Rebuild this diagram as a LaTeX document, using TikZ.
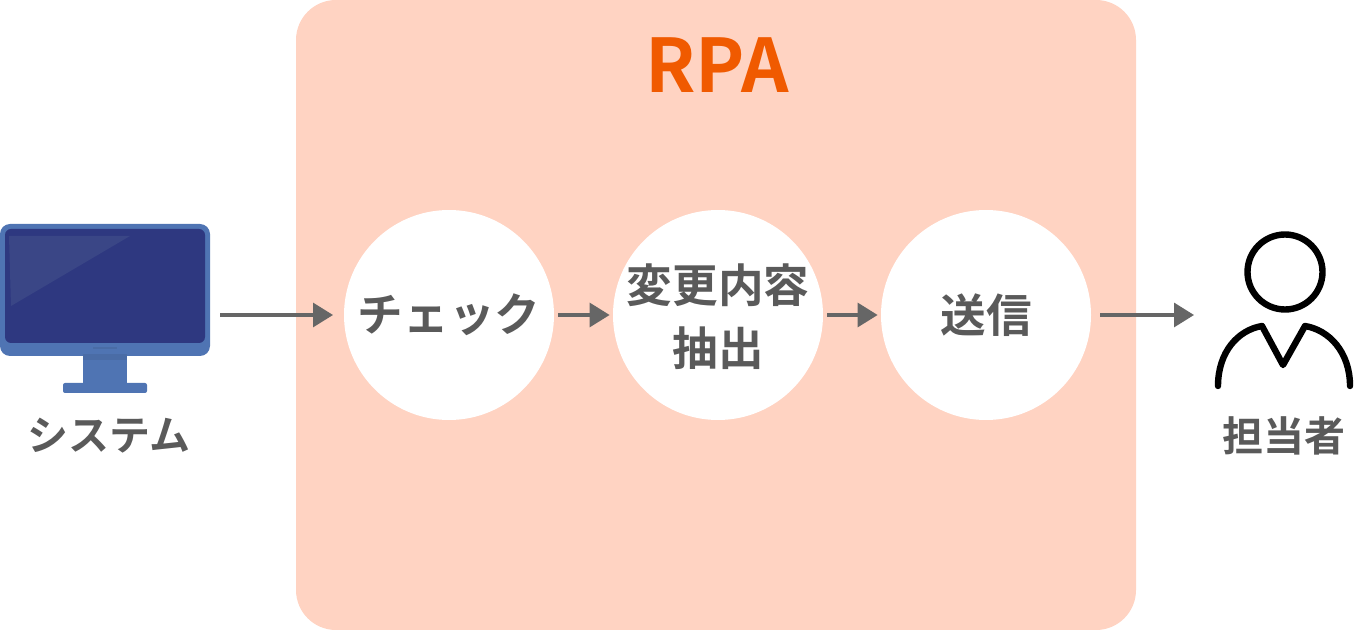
\documentclass[tikz,border=0pt]{standalone}
\usepackage{fontspec}
\setmainfont{Noto Sans CJK JP}[BoldFont={Noto Sans CJK JP Bold}]
\usetikzlibrary{arrows.meta}
\definecolor{panel}{HTML}{FFD3C2}
\definecolor{orangetxt}{HTML}{F05A00}
\definecolor{greytxt}{HTML}{5A5A5A}
\definecolor{arrowgrey}{HTML}{666666}
\definecolor{monframe}{HTML}{4F74B3}
\definecolor{monscreen}{HTML}{2E3880}
\definecolor{monshine}{HTML}{3A4686}
\definecolor{monshade}{HTML}{4A6CA6}
\tikzset{
  x=0.5pt,y=-0.5pt,
  stagetext/.style={align=center,inner sep=0pt,
    font=\fontsize{22.8}{31.5}\selectfont\bfseries,text=greytxt},
  stagecircle/.style={circle,fill=white,minimum size=105pt,inner sep=0pt,stagetext},
  sidelabel/.style={font=\fontsize{20.5}{24}\selectfont\bfseries,text=greytxt,inner sep=0pt},
  flow/.style={draw=arrowgrey,line width=1.6pt,-{Triangle[length=10pt,width=12pt]}},
  personline/.style={draw=black,line width=3.2pt,line cap=round,line join=round},
}
\begin{document}
\begin{tikzpicture}
\useasboundingbox (0,0) rectangle (1360,630);
\fill[panel,rounded corners=20pt] (296,0) rectangle (1136,630);
\node[font=\fontsize{37}{42}\selectfont\bfseries,text=orangetxt,inner sep=0pt] (rpa) at (717,65) {RPA};
\node[stagecircle] (check) at (449,315) {チェック};
\node[stagecircle,label={[stagetext,yshift=-1pt]center:{変更内容\\抽出}}] (extract) at (718,315) {};
\node[stagecircle] (send) at (986,315) {送信};
% monitor
\fill[monframe,rounded corners=5pt] (0,224) rectangle (210,356);
\fill[monscreen,rounded corners=3pt] (5,229) rectangle (205,343);
\fill[monshine] (9,236) -- (130,236) -- (11,306) -- cycle;
\fill[monframe] (83,354) rectangle (127,384);
\fill[monshade] (83,354) rectangle (127,360);
\fill[monframe,rounded corners=1pt] (63,383) rectangle (147,393);
\fill[monshade] (93,347) rectangle (117,349);
\node[inner sep=0pt,minimum width=105pt,minimum height=85pt] (monitor) at (105,315) {};
\node[sidelabel] (syslabel) at (109,436) {システム};
% person
\node[circle,draw=black,line width=3.2pt,minimum size=37.5pt,inner sep=0pt] (head) at (1285,272) {};
\draw[personline] (1218,386) .. controls (1218,352) and (1238,330) .. (1262,326)
  -- (1283,365) -- (1305,326) .. controls (1329,330) and (1350,352) .. (1350,386);
\coordinate (person) at (1194,315);
\node[sidelabel] (perslabel) at (1284,436) {担当者};
% connectors
\coordinate (checkin) at (333,315);
\draw[flow,shorten <=5pt] (monitor.east) -- (checkin);
\draw[flow,shorten <=2pt,shorten >=1.5pt] (check.east) -- (extract.west);
\draw[flow,shorten <=2pt,shorten >=1.5pt] (extract.east) -- (send.west);
\draw[flow,shorten <=4.5pt] (send.east) -- (person);
\end{tikzpicture}
\end{document}
